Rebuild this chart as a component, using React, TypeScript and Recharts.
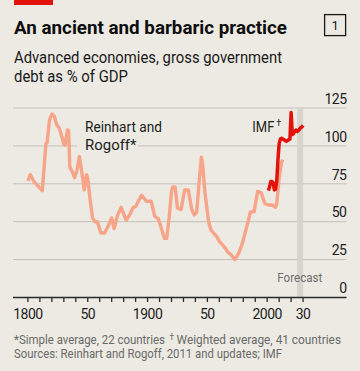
import React from 'react';
import { LineChart, Line, XAxis, YAxis, CartesianGrid, ReferenceArea } from 'recharts';

// Reinhart and Rogoff, simple average of 22 countries
const rrYears = [
  1800, 1802, 1805, 1809, 1812, 1814, 1815, 1816, 1818, 1820, 1822, 1824, 1826, 1828, 1830, 1831,
  1833, 1834, 1835, 1837, 1839, 1841, 1843, 1844, 1846, 1847, 1849, 1850, 1852, 1854, 1856, 1858,
  1861, 1864, 1867, 1870, 1872, 1875, 1878, 1882, 1885, 1888, 1890, 1893, 1895, 1899, 1903, 1906,
  1909, 1911, 1914, 1916, 1918, 1920, 1921, 1923, 1925, 1928, 1931, 1934, 1937, 1939, 1941, 1943,
  1945, 1946, 1948, 1951, 1953, 1958, 1960, 1965, 1967, 1970, 1973, 1976, 1979, 1981, 1984, 1986,
  1989, 1990, 1992, 1995, 1998, 2001, 2004, 2007, 2008, 2010, 2012, 2013,
];
const rrDebt = [
  77, 81, 76.5, 73, 70.5, 91, 101.5, 102, 117, 121, 119.5, 114, 112, 107, 101, 100.5,
  110.5, 110, 86, 83, 79, 84, 93, 88, 77.5, 71, 81, 78.5, 64.5, 52.5, 50, 50,
  42.5, 42.5, 47, 52.5, 45.5, 54.5, 59.5, 51, 54.5, 59.5, 60, 64.5, 67.5, 63.5, 63.5, 53.5,
  52, 47, 39, 39, 52.5, 70, 73, 73, 59, 58, 71, 71, 58, 54.5, 56, 75.5,
  92.5, 88, 69, 50, 44.5, 40, 37, 32.5, 30, 28, 25, 29, 35, 41, 50, 56.5,
  56.5, 61, 70, 69, 62, 61, 61, 59.5, 62, 79, 89, 91,
];

// IMF, weighted average of 41 countries
const imfYears = [
  2001, 2002, 2003, 2004, 2005, 2006, 2007, 2008, 2009, 2010, 2011, 2012, 2013, 2014, 2015,
  2016, 2017, 2018, 2019, 2020, 2021, 2022, 2023, 2024, 2025, 2026, 2027, 2028, 2029, 2030,
];
const imfDebt = [
  70.5, 73, 76.5, 76.5, 75.5, 71, 71.5, 77, 91, 101.5, 104.5, 105, 104.5, 104, 103.5,
  103, 103.5, 104, 104.5, 122, 107.5, 108, 109.5, 110.5, 109.5, 110, 111, 112, 112.5, 113.5,
];

const xTicks = [
  1800, 1810, 1820, 1830, 1840, 1850, 1860, 1870, 1880, 1890, 1900, 1910, 1920, 1930, 1940, 1950,
  1960, 1970, 1980, 1990, 2000, 2010, 2020, 2030,
];
const xTickLabels: Record<number, string> = {
  1800: '1800', 1850: '50', 1900: '1900', 1950: '50', 2000: '2000', 2030: '30',
};
const yTicks = [0, 25, 50, 75, 100, 125];
const forecastYears = [2025, 2030];

const rrData = rrYears.map((year, i) => ({ year, debt: rrDebt[i] }));
const imfData = imfYears.map((year, i) => ({ year, debt: imfDebt[i] }));

const BG = '#ECEAE3';
const FONT = 'Roboto, "Noto Sans", sans-serif';

const XTick = (props: any) => {
  const { x, y, payload } = props;
  const label = xTickLabels[payload.value];
  return (
    <g>
      <line x1={x} x2={x} y1={y} y2={y + 4.5} stroke="#2b2b2b" strokeWidth={1.3} />
      {label && (
        <text x={x} y={y + 21.8} textAnchor="middle" fontSize={14} letterSpacing={-0.5}
          fill="#1d1d1d" fontFamily={FONT}>
          {label}
        </text>
      )}
    </g>
  );
};

const YTick = (props: any) => {
  const { y, payload } = props;
  return (
    <text x={346.5} y={y - 4.3} textAnchor="end" fontSize={14} letterSpacing={-0.5}
      fill="#1d1d1d" fontFamily={FONT}>
      {payload.value}
    </text>
  );
};

const App = () => {
  return (
    <div style={{ position: 'absolute', left: 0, top: 0, width: 360, height: 371, background: BG }}>
      <LineChart width={360} height={371} margin={{ top: 108, right: 13.5, bottom: 43.5, left: 13 }}>
        <CartesianGrid vertical={false} stroke="#c3c1b9" strokeWidth={1} />
        <ReferenceArea x1={forecastYears[0]} x2={forecastYears[1]} y1={0} y2={125}
          fill="#d6d4cc" fillOpacity={1} stroke="none" />
        <XAxis
          dataKey="year"
          type="number"
          domain={[1787.5, 2066.3]}
          ticks={xTicks}
          interval={0}
          tickSize={0}
          tickMargin={0}
          height={30}
          tickLine={false}
          axisLine={{ stroke: '#2b2b2b', strokeWidth: 1.5 }}
          tick={XTick}
          allowDataOverflow
        />
        <YAxis
          orientation="right"
          mirror
          width={40}
          domain={[0, 125]}
          ticks={yTicks}
          interval={0}
          axisLine={false}
          tickLine={false}
          tick={YTick}
        />
        <Line data={rrData} dataKey="debt" type="linear" stroke="#F7A488" strokeWidth={3.4}
          dot={false} strokeLinejoin="round" isAnimationActive={false} />
        <Line data={imfData} dataKey="debt" type="linear" stroke="#E3120B" strokeWidth={3.5}
          dot={false} strokeLinejoin="round" isAnimationActive={false} />
      </LineChart>

      <svg width={360} height={371} style={{ position: 'absolute', left: 0, top: 0, pointerEvents: 'none' }}
        fontFamily={FONT}>
        <rect x={14} y={0} width={39} height={5} fill="#E3120B" />
        <text x={14} y={34.3} fontSize={19} fontWeight={700} fill="#0d0d0d"
          textLength={273} lengthAdjust="spacingAndGlyphs">
          An ancient and barbaric practice
        </text>
        <rect x={324.6} y={14.6} width={21} height={21} fill="none" stroke="#1a1a1a" strokeWidth={1.3} />
        <text x={335.1} y={30} fontSize={13} textAnchor="middle" fill="#1a1a1a">1</text>

        <text x={14} y={63.3} fontSize={17} fill="#1a1a1a" textLength={268} lengthAdjust="spacingAndGlyphs">
          Advanced economies, gross government
        </text>
        <text x={14} y={81.7} fontSize={17} fill="#1a1a1a" textLength={114} lengthAdjust="spacingAndGlyphs">
          debt as % of GDP
        </text>

        <text x={85} y={131.7} fontSize={15} fill="#1d1d1d" textLength={77} lengthAdjust="spacingAndGlyphs">
          Reinhart and
        </text>
        <rect x={77} y={138} width={61} height={16} fill={BG} />
        <text x={85} y={150} fontSize={15} fill="#1d1d1d" textLength={51.5} lengthAdjust="spacingAndGlyphs">
          Rogoff*
        </text>
        <text x={252.3} y={131.7} fontSize={15} fill="#1d1d1d" textLength={22} lengthAdjust="spacingAndGlyphs">
          IMF
        </text>
        <text x={276.2} y={125.5} fontSize={9} fill="#1d1d1d">†</text>

        <text x={277.3} y={281.5} fontSize={13} fill="#6e6e6e" textLength={45} lengthAdjust="spacingAndGlyphs">
          Forecast
        </text>

        <text x={14} y={344.3} fontSize={13} fill="#6a6a6a" textLength={151} lengthAdjust="spacingAndGlyphs">
          *Simple average, 22 countries
        </text>
        <text x={169.6} y={339.5} fontSize={8.5} fill="#6a6a6a">†</text>
        <text x={176.6} y={344.3} fontSize={13} fill="#6a6a6a" textLength={164.4} lengthAdjust="spacingAndGlyphs">
          Weighted average, 41 countries
        </text>
        <text x={14} y={358.3} fontSize={13} fill="#6a6a6a" textLength={268} lengthAdjust="spacingAndGlyphs">
          Sources: Reinhart and Rogoff, 2011 and updates; IMF
        </text>
      </svg>
    </div>
  );
};

export default App;
